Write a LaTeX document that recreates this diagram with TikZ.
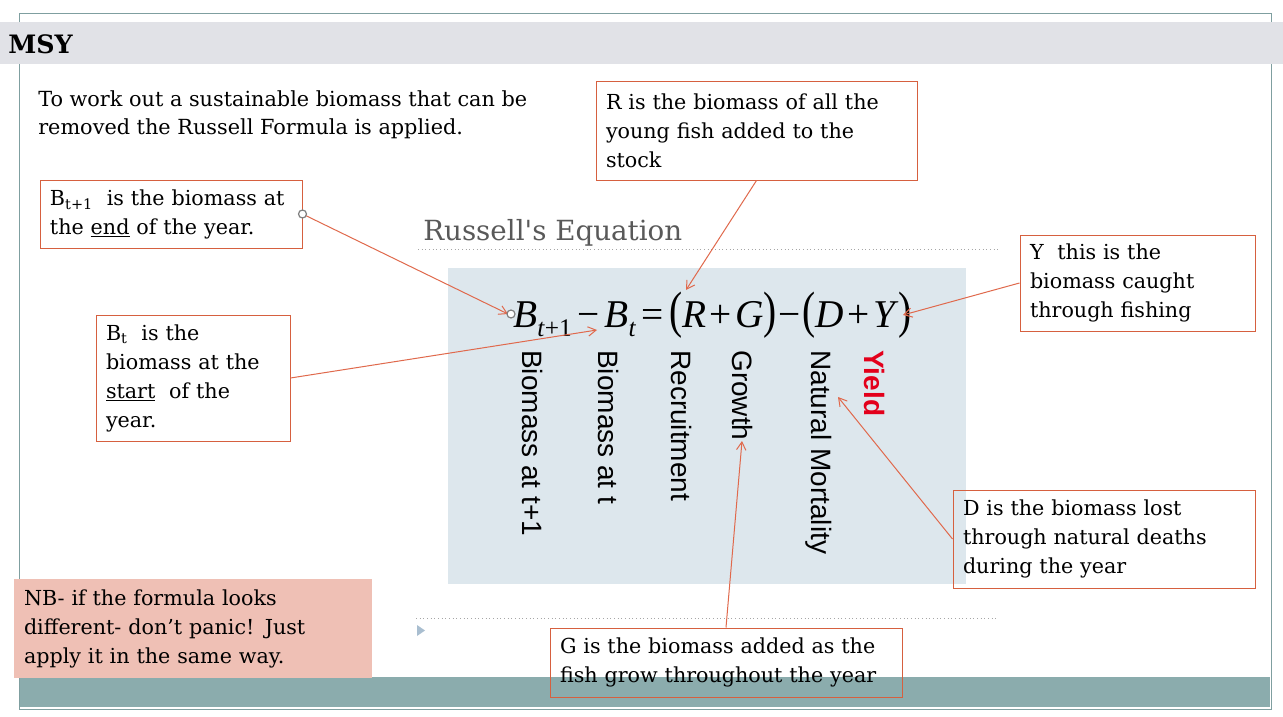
\documentclass[tikz,border=0pt]{standalone}
\usepackage{fontspec}
\usepackage{graphicx}
\setmainfont{DejaVu Serif}
\setsansfont{Liberation Sans}
\newfontfamily\eqf{Liberation Serif}
\usetikzlibrary{arrows.meta,calc}
\definecolor{frameC}{HTML}{7F9FA0}
\definecolor{titleC}{HTML}{E1E2E7}
\definecolor{bandC}{HTML}{8BACAD}
\definecolor{eqC}{HTML}{DDE7ED}
\definecolor{boxC}{HTML}{D6603F}
\definecolor{connC}{HTML}{E0694C}
\definecolor{nbC}{HTML}{EFC0B5}
\definecolor{yieldC}{HTML}{E3001B}
\definecolor{dotC}{HTML}{A6A6A6}
\definecolor{triC}{HTML}{A9BED0}
\definecolor{grayT}{HTML}{595959}
\newcommand{\bigp}[1]{\scalebox{1}[1.3]{#1}}
\newcommand{\eqsub}[1]{\raisebox{-7pt}{\fontsize{19pt}{19pt}\selectfont #1}}
\newcommand{\eqgap}{\hspace{4pt}}
\newcommand{\plgap}{\hspace{2.5pt}}
\newcommand{\mgap}{\hspace{1.5pt}}
\begin{document}
\begin{tikzpicture}[x=0.75pt,y=-0.75pt,
  boxtxt/.style={font=\fontsize{15.5pt}{21.75pt}\selectfont, align=left, inner xsep=7.5pt, inner ysep=0pt},
  callout/.style={boxtxt, draw=boxC, line width=0.75pt},
  conn/.style={draw=connC, line width=0.75pt, -{Straight Barb[length=6pt,width=7pt]}},
  vlabel/.style={font=\sffamily\fontsize{21pt}{21pt}\selectfont, rotate=-90, anchor=base west, inner sep=0pt},
  handle/.style={draw=gray, fill=white, line width=0.9pt}
]
\useasboundingbox (0,0) rectangle (1283,717);
\fill[white] (0,0) rectangle (1283,717);
% frame
\draw[frameC, line width=0.75pt] (19,14) rectangle (1271,709);
% title band
\fill[titleC] (0,22) rectangle (1283,64);
\node[font=\bfseries\fontsize{19pt}{19pt}\selectfont, anchor=west, inner sep=0pt] (title) at (8,44) {MSY};
% bottom band
\fill[bandC] (20,677) rectangle (1270,707);
% intro
\node[align=left, anchor=west, inner sep=0pt, font=\fontsize{15.6pt}{21pt}\selectfont] (intro) at (38,115) {To work out a sustainable biomass that can be\\removed the Russell Formula is applied.};
% Russell's equation title
\node[font=\fontsize{20.8pt}{20.8pt}\selectfont, text=grayT, anchor=base west, inner sep=0pt] (rtitle) at (423,240) {Russell\textquotesingle s Equation};
\draw[dotC, dotted, line width=0.75pt] (418,249) -- (998,249);
\draw[dotC, dotted, line width=0.75pt] (416,618) -- (998,618);
\fill[triC] (417,625) -- (425,630.5) -- (417,636) -- cycle;
% equation box
\fill[eqC] (448,268) rectangle (966,584);
\node[anchor=base west, inner sep=0pt, font=\eqf\fontsize{29.5pt}{29.5pt}\selectfont] (eq) at (513,327)
 {\textit{B}\eqsub{\textit{t}+1}\eqgap−\eqgap\textit{B}\eqsub{\textit{t}}\eqgap=\eqgap\bigp{(}\textit{R}\plgap+\plgap\textit{G}\bigp{)}\mgap−\mgap\bigp{(}\textit{D}\plgap+\plgap\textit{Y}\bigp{)}};
\node[vlabel] (l1) at (522,350) {Biomass at t+1};
\node[vlabel] (l2) at (598,350) {Biomass at t};
\node[vlabel] (l3) at (671,350) {Recruitment};
\node[vlabel] (l4) at (732,350) {Growth};
\node[vlabel] (l5) at (811,350) {Natural Mortality};
\node[vlabel, font=\sffamily\bfseries\fontsize{21pt}{21pt}\selectfont, text=yieldC] (l6) at (864,350) {Yield};
% anchor points in the equation
\coordinate (pB1) at (508,314);
\coordinate (pB) at (597,330);
\coordinate (pR) at (686,290);
\coordinate (pY) at (903,315);
\coordinate (pD) at (838,397);
\coordinate (pG) at (742,441);
\coordinate (hB1) at (511,314);
% callouts
\node[callout, text width=181.5pt, minimum height=51pt] (bt1) at (171,214)
 {B\textsubscript{t+1}~ is the biomass at\\the \underline{end} of the year.};
\node[callout, text width=225.75pt, minimum height=73.5pt] (rbox) at (756.5,131)
 {R is the biomass of all the\\young fish added to the\\stock};
\node[callout, text width=161.25pt, minimum height=72pt] (ybox) at (1137.5,283)
 {Y~ this is the\\biomass caught\\through fishing};
\node[callout, text width=130.5pt, minimum height=94.5pt] (btbox) at (193,378)
 {B\textsubscript{t}~ is the\\biomass at the\\\underline{start}~ of the\\year.};
\node[callout, text width=211.5pt, minimum height=73.5pt] (dbox) at (1104,539)
 {D is the biomass lost\\through natural deaths\\during the year};
\node[boxtxt, fill=nbC, text width=253.5pt, minimum height=74.25pt] (nb) at (193,628.5)
 {NB- if the formula looks\\different- don’t panic! Just\\apply it in the same way.};
\node[callout, text width=249pt, minimum height=51.75pt] (gbox) at (726,662.5)
 {G is the biomass added as the\\fish grow throughout the year};
% connectors
\draw[conn] (bt1.east) -- (pB1);
\draw[conn] (btbox.east) -- (pB);
\draw[conn] (rbox.south) -- (pR);
\draw[conn] (ybox.west) -- (pY);
\draw[conn] (dbox.west) -- (pD);
\draw[conn] (gbox.north) -- (pG);
\draw[handle] (bt1.east) circle (4);
\draw[handle] (hB1) circle (4);
\end{tikzpicture}
\end{document}
